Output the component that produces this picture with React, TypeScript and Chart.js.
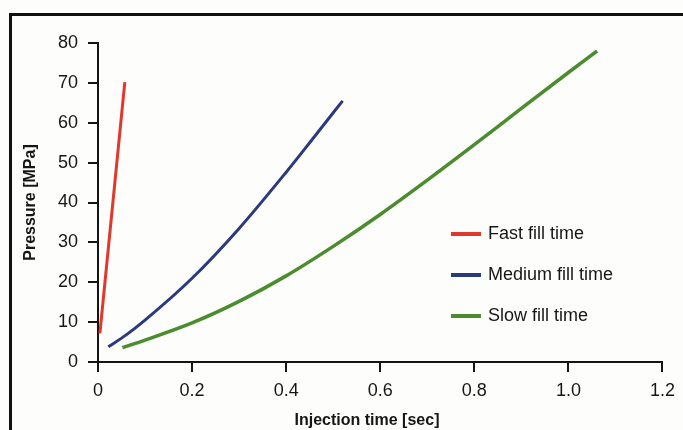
import React, { useEffect, useRef } from "react";
import { Chart, registerables } from "chart.js";

Chart.register(...registerables);

// ---- data ----
const seriesLabels = ["Fast fill time", "Medium fill time", "Slow fill time"];
const seriesColors = ["#e2372b", "#2b3a7c", "#4a8c2e"];

const fastX = [0.004, 0.057];
const fastY = [7.2, 70.2];

const mediumX = [0.022, 0.06, 0.1, 0.2, 0.3, 0.4, 0.46, 0.52];
const mediumY = [3.8, 6.8, 10.5, 21.0, 33.5, 47.6, 56.5, 65.5];

const slowX = [0.052, 0.1, 0.2, 0.3, 0.4, 0.5, 0.6, 0.7, 0.8, 0.9, 1.0, 1.061];
const slowY = [3.6, 5.5, 9.8, 15.2, 21.6, 29.0, 37.0, 45.6, 54.5, 63.6, 72.6, 78.0];

const xTickLabels = ["0", "0.2", "0.4", "0.6", "0.8", "1.0", "1.2"];
const yTickLabels = ["0", "10", "20", "30", "40", "50", "60", "70", "80"];

const xTitle = "Injection time [sec]";
const yTitle = "Pressure [MPa]";

const toPoints = (xs: number[], ys: number[]) => xs.map((x, i) => ({ x, y: ys[i] }));

const TEXT = "#161616";
const AXIS = "#141414";

const overlayPlugin = {
  id: "overlay",
  afterDraw(chart: any) {
    const ctx = chart.ctx;
    ctx.save();
    chart.data.datasets.forEach((ds: any, i: number) => {
      const y = 234 + i * 41;
      ctx.strokeStyle = ds.borderColor;
      ctx.lineWidth = 4;
      ctx.beginPath();
      ctx.moveTo(451, y);
      ctx.lineTo(481, y);
      ctx.stroke();
      ctx.fillStyle = TEXT;
      ctx.font = '18px "Liberation Sans", Arial, sans-serif';
      ctx.textAlign = "left";
      ctx.textBaseline = "middle";
      ctx.fillText(ds.label, 488, y);
    });
    ctx.font = 'bold 16px "Liberation Sans", Arial, sans-serif';
    ctx.textAlign = "center";
    ctx.textBaseline = "middle";
    ctx.fillStyle = TEXT;
    ctx.fillText(xTitle, 367, 421);
    ctx.restore();
  },
};

export default function App() {
  const ref = useRef<HTMLCanvasElement | null>(null);

  useEffect(() => {
    if (!ref.current) return;
    const chart = new Chart(ref.current, {
      type: "line",
      data: {
        datasets: [
          {
            label: seriesLabels[0],
            data: toPoints(fastX, fastY),
            borderColor: seriesColors[0],
            borderWidth: 3,
            pointRadius: 0,
            tension: 0,
          },
          {
            label: seriesLabels[1],
            data: toPoints(mediumX, mediumY),
            borderColor: seriesColors[1],
            borderWidth: 3,
            pointRadius: 0,
            cubicInterpolationMode: "monotone",
          },
          {
            label: seriesLabels[2],
            data: toPoints(slowX, slowY),
            borderColor: seriesColors[2],
            borderWidth: 3.5,
            pointRadius: 0,
            cubicInterpolationMode: "monotone",
          },
        ],
      },
      plugins: [overlayPlugin],
      options: {
        animation: false,
        responsive: false,
        layout: { padding: { left: 21, top: 43, right: 13, bottom: 0 } },
        plugins: { legend: { display: false }, tooltip: { enabled: false } },
        scales: {
          x: {
            type: "linear",
            min: 0,
            max: 1.2,
            afterFit: (s: any) => {
              s.height = 68;
            },
            ticks: {
              stepSize: 0.2,
              padding: 8,
              color: TEXT,
              font: { family: '"Liberation Sans", Arial, sans-serif', size: 18 },
              maxRotation: 0,
              callback: (_v: any, i: number) => xTickLabels[i],
            },
            grid: {
              drawOnChartArea: false,
              drawTicks: true,
              tickLength: 10,
              color: AXIS,
              lineWidth: 2,
            },
            border: { display: true, color: AXIS, width: 2 },
          },
          y: {
            min: 0,
            max: 80,
            afterFit: (s: any) => {
              s.width = 77;
            },
            ticks: {
              stepSize: 10,
              padding: 10,
              color: TEXT,
              font: { family: '"Liberation Sans", Arial, sans-serif', size: 18 },
              callback: (_v: any, i: number) => yTickLabels[i],
            },
            grid: {
              drawOnChartArea: false,
              drawTicks: true,
              tickLength: 10,
              color: AXIS,
              lineWidth: 2,
            },
            border: { display: true, color: AXIS, width: 2 },
            title: {
              display: true,
              text: yTitle,
              color: TEXT,
              padding: 0,
              font: { family: '"Liberation Sans", Arial, sans-serif', size: 16, weight: "bold" },
            },
          },
        },
      },
    });
    return () => chart.destroy();
  }, []);

  return (
    <div
      style={{
        position: "fixed",
        left: 0,
        top: 0,
        width: 683,
        height: 430,
        overflow: "hidden",
        background: "#fdfdfb",
      }}
    >
      <div
        style={{
          position: "absolute",
          left: 9,
          top: 13,
          width: 720,
          height: 460,
          borderTop: "3px solid #111",
          borderLeft: "3px solid #111",
        }}
      />
      <canvas
        ref={ref}
        width={683}
        height={430}
        style={{ position: "absolute", left: 0, top: 0, width: 683, height: 430 }}
      />
    </div>
  );
}
